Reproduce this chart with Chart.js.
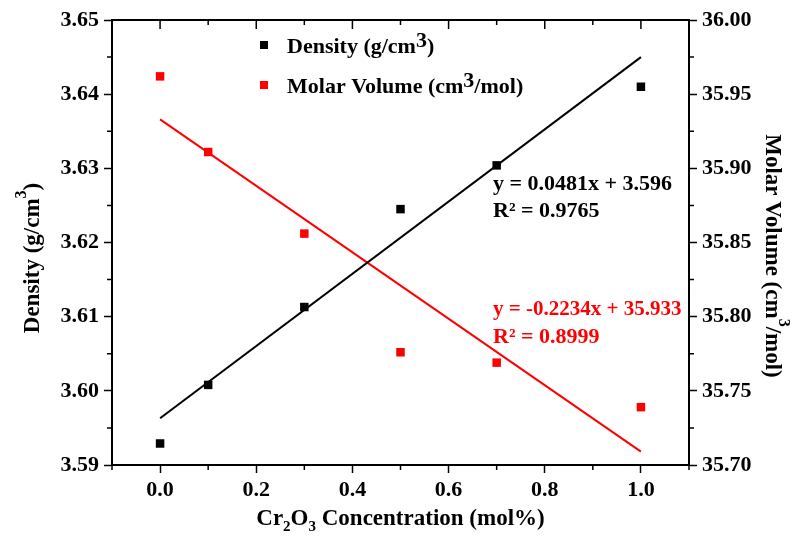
<!DOCTYPE html>
<html>
<head>
<meta charset="utf-8">
<script src="https://cdn.jsdelivr.net/npm/chart.js@4.4.0/dist/chart.umd.min.js"></script>
<style>
body { margin: 0; background: #fff; }
</style>
</head>
<body>
<canvas id="densityChart" width="792" height="545"></canvas>
<script>
const concentrations = [0.0, 0.1, 0.3, 0.5, 0.7, 1.0];
const densities = [3.5929, 3.6008, 3.6113, 3.6245, 3.6304, 3.6410];
const molarVolumes = [35.962, 35.911, 35.856, 35.776, 35.769, 35.739];

// linear fit lines, read at x = 0 and x = 1
const fitRange = [0.0, 1.0];
const densityFit = [3.5963, 3.6450];
const molarVolumeFit = [35.933, 35.709];

const concTicks = [0.0, 0.2, 0.4, 0.6, 0.8, 1.0];
const concMinorTicks = [-0.1, 0.1, 0.3, 0.5, 0.7, 0.9, 1.1];
const densityTicks = [3.59, 3.60, 3.61, 3.62, 3.63, 3.64, 3.65];
const densityMinorTicks = [3.595, 3.605, 3.615, 3.625, 3.635, 3.645];
const volumeTicks = [35.70, 35.75, 35.80, 35.85, 35.90, 35.95, 36.00];
const volumeMinorTicks = [35.725, 35.775, 35.825, 35.875, 35.925, 35.975];

const RED = '#ff0000';
const serif = '"Liberation Serif", "Times New Roman", serif';

function font(size) {
    return 'bold ' + size + 'px ' + serif;
}

function runsWidth(ctx, runs) {
    return runs.reduce((w, r) => {
        ctx.font = font(r.size);
        return w + ctx.measureText(r.text).width;
    }, 0);
}

// draw text pieces one after another (for sub/superscripts)
function drawRuns(ctx, runs, x, y, align) {
    let cx = align === 'center' ? x - runsWidth(ctx, runs) / 2 : x;
    ctx.textAlign = 'left';
    ctx.textBaseline = 'alphabetic';
    runs.forEach(r => {
        ctx.font = font(r.size);
        ctx.fillText(r.text, cx, y + (r.dy || 0));
        cx += ctx.measureText(r.text).width;
    });
}

const frameAndText = {
    id: 'frameAndText',
    afterDraw(chart) {
        const ctx = chart.ctx;
        const { left, right, top, bottom } = chart.chartArea;
        const x = chart.scales.x, y = chart.scales.y, y1 = chart.scales.y1;
        ctx.save();
        ctx.strokeStyle = '#000';
        ctx.lineWidth = 2;
        ctx.beginPath();
        ctx.moveTo(left - 1, top);
        ctx.lineTo(right + 1, top);
        ctx.stroke();

        ctx.lineWidth = 1.5;
        ctx.beginPath();
        concTicks.forEach(v => {
            const px = x.getPixelForValue(v);
            ctx.moveTo(px, top);
            ctx.lineTo(px, top + 9);
        });
        concMinorTicks.forEach(v => {
            const px = x.getPixelForValue(v);
            ctx.moveTo(px, top);
            ctx.lineTo(px, top + 5);
            ctx.moveTo(px, bottom);
            ctx.lineTo(px, bottom + 5);
        });
        densityMinorTicks.forEach(v => {
            const py = y.getPixelForValue(v);
            ctx.moveTo(left - 5, py);
            ctx.lineTo(left, py);
        });
        volumeMinorTicks.forEach(v => {
            const py = y1.getPixelForValue(v);
            ctx.moveTo(right, py);
            ctx.lineTo(right + 5, py);
        });
        ctx.stroke();

        // legend
        ctx.fillStyle = '#000';
        ctx.fillRect(260, 41, 8, 8);
        ctx.fillStyle = RED;
        ctx.fillRect(260, 81, 8, 8);
        ctx.fillStyle = '#000';
        drawRuns(ctx, [
            { text: 'Density (g/cm', size: 22 },
            { text: '3', size: 22, dy: -6 },
            { text: ')', size: 22 }
        ], 287, 53);
        drawRuns(ctx, [
            { text: 'Molar Volume (cm', size: 22 },
            { text: '3', size: 22, dy: -6 },
            { text: '/mol)', size: 22 }
        ], 287, 93);

        // fit equations
        drawRuns(ctx, [{ text: 'y = 0.0481x + 3.596', size: 22 }], 493, 190);
        drawRuns(ctx, [{ text: 'R\u00b2 = 0.9765', size: 22 }], 493, 217);
        ctx.fillStyle = RED;
        drawRuns(ctx, [{ text: 'y = -0.2234x + 35.933', size: 21 }], 493, 315);
        drawRuns(ctx, [{ text: 'R\u00b2 = 0.8999', size: 22 }], 493, 343);

        // axis titles
        ctx.fillStyle = '#000';
        drawRuns(ctx, [
            { text: 'Cr', size: 23 },
            { text: '2', size: 15, dy: 6 },
            { text: 'O', size: 23 },
            { text: '3', size: 15, dy: 6 },
            { text: ' Concentration (mol%)', size: 23 }
        ], (left + right) / 2, 525, 'center');

        ctx.save();
        ctx.translate(39, 258);
        ctx.rotate(-Math.PI / 2);
        drawRuns(ctx, [
            { text: 'Density (g/cm', size: 23 },
            { text: '3', size: 16, dy: -13 },
            { text: ')', size: 23 }
        ], 0, 0, 'center');
        ctx.restore();

        ctx.save();
        ctx.translate(766, 256);
        ctx.rotate(Math.PI / 2);
        drawRuns(ctx, [
            { text: 'Molar Volume (cm', size: 23 },
            { text: '3', size: 16, dy: -13 },
            { text: '/mol)', size: 23 }
        ], 0, 0, 'center');
        ctx.restore();

        ctx.restore();
    }
};

const tickFont = { family: serif, size: 22, weight: 'bold' };
const axisGrid = { drawOnChartArea: false, tickLength: 8, tickWidth: 1.5, tickColor: '#000', color: '#000' };
const axisBorder = { display: true, color: '#000', width: 2 };

const toPoints = (xs, ys) => xs.map((v, i) => ({ x: v, y: ys[i] }));

new Chart(document.getElementById('densityChart').getContext('2d'), {
    type: 'scatter',
    data: {
        datasets: [
            {
                label: 'Density fit',
                data: toPoints(fitRange, densityFit),
                showLine: true,
                borderColor: '#000',
                borderWidth: 2,
                pointRadius: 0,
                yAxisID: 'y'
            },
            {
                label: 'Molar Volume fit',
                data: toPoints(fitRange, molarVolumeFit),
                showLine: true,
                borderColor: RED,
                borderWidth: 2,
                pointRadius: 0,
                yAxisID: 'y1'
            },
            {
                label: 'Density (g/cm3)',
                data: toPoints(concentrations, densities),
                pointStyle: 'rect',
                pointRadius: 6,
                pointBorderWidth: 0,
                backgroundColor: '#000',
                yAxisID: 'y'
            },
            {
                label: 'Molar Volume (cm3/mol)',
                data: toPoints(concentrations, molarVolumes),
                pointStyle: 'rect',
                pointRadius: 6,
                pointBorderWidth: 0,
                backgroundColor: RED,
                yAxisID: 'y1'
            }
        ]
    },
    options: {
        responsive: false,
        animation: false,
        events: [],
        layout: { padding: { top: 20, left: 0, right: 0, bottom: 0 } },
        plugins: {
            legend: { display: false },
            tooltip: { enabled: false }
        },
        scales: {
            x: {
                type: 'linear',
                position: 'bottom',
                min: -0.1,
                max: 1.1,
                grid: axisGrid,
                border: axisBorder,
                afterBuildTicks: scale => { scale.ticks = concTicks.map(v => ({ value: v })); },
                afterFit: scale => { scale.height = 80; },
                ticks: {
                    color: '#000',
                    font: tickFont,
                    padding: 4,
                    maxRotation: 0,
                    callback: v => v.toFixed(1)
                }
            },
            y: {
                type: 'linear',
                position: 'left',
                min: 3.59,
                max: 3.65,
                grid: axisGrid,
                border: axisBorder,
                afterBuildTicks: scale => { scale.ticks = densityTicks.map(v => ({ value: v })); },
                afterFit: scale => { scale.width = 112; },
                ticks: {
                    color: '#000',
                    font: tickFont,
                    padding: 5,
                    callback: v => v.toFixed(2)
                }
            },
            y1: {
                type: 'linear',
                position: 'right',
                min: 35.70,
                max: 36.00,
                grid: axisGrid,
                border: axisBorder,
                afterBuildTicks: scale => { scale.ticks = volumeTicks.map(v => ({ value: v })); },
                afterFit: scale => { scale.width = 103; },
                ticks: {
                    color: '#000',
                    font: tickFont,
                    padding: 5,
                    callback: v => v.toFixed(2)
                }
            }
        }
    },
    plugins: [frameAndText]
});
</script>
</body>
</html>
